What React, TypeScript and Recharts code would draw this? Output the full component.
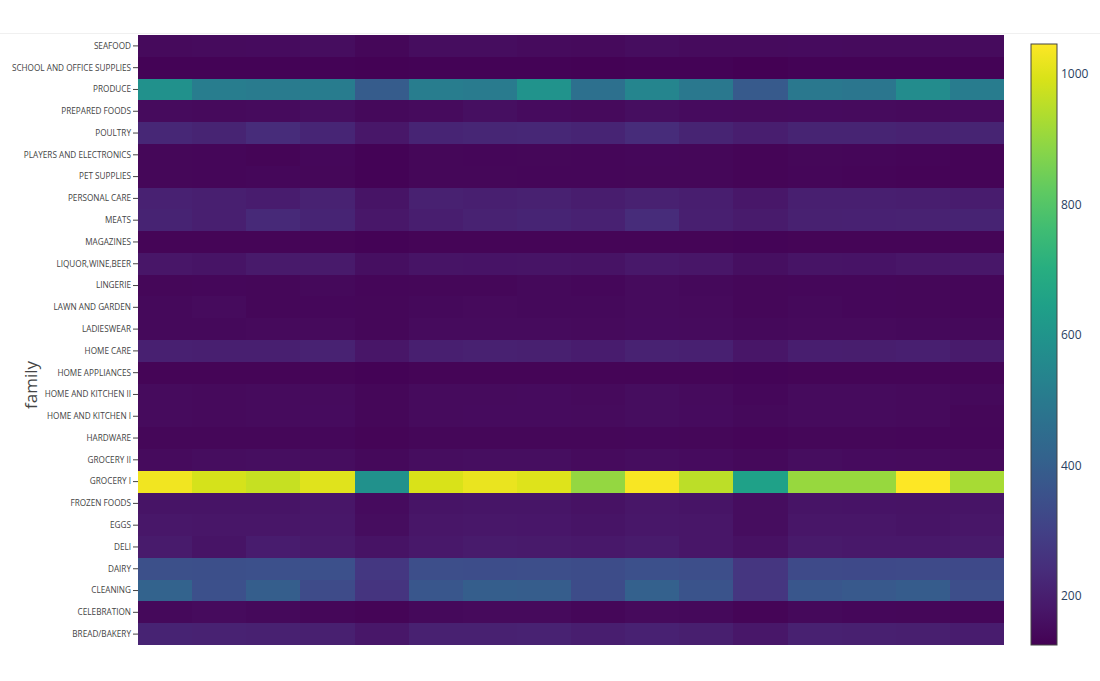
import React from 'react';
import { BarChart, Bar, XAxis, YAxis, Cell } from 'recharts';

// 上から順に（Plotly の並びに合わせて逆アルファベット順）
const families = [
  'SEAFOOD', 'SCHOOL AND OFFICE SUPPLIES', 'PRODUCE', 'PREPARED FOODS', 'POULTRY',
  'PLAYERS AND ELECTRONICS', 'PET SUPPLIES', 'PERSONAL CARE', 'MEATS', 'MAGAZINES',
  'LIQUOR,WINE,BEER', 'LINGERIE', 'LAWN AND GARDEN', 'LADIESWEAR', 'HOME CARE',
  'HOME APPLIANCES', 'HOME AND KITCHEN II', 'HOME AND KITCHEN I', 'HARDWARE', 'GROCERY II',
  'GROCERY I', 'FROZEN FOODS', 'EGGS', 'DELI', 'DAIRY', 'CLEANING', 'CELEBRATION', 'BREAD/BAKERY',
];

// 16 列分の値（絵から読み取った概算）
const seafood = [148, 150, 152, 155, 140, 155, 155, 150, 148, 155, 150, 150, 152, 150, 150, 150];
const schoolOffice = [130, 130, 131, 130, 128, 130, 130, 130, 129, 130, 130, 126, 130, 130, 130, 130];
const produce = [587, 513, 504, 508, 393, 513, 505, 596, 467, 541, 495, 384, 495, 486, 569, 508];
const preparedFoods = [150, 148, 150, 158, 145, 150, 160, 152, 148, 158, 152, 150, 152, 150, 148, 152];
const poultry = [226, 216, 240, 220, 182, 218, 222, 225, 218, 240, 216, 200, 216, 216, 212, 216];
const playersElectronics = [140, 138, 135, 142, 130, 140, 138, 140, 138, 142, 140, 135, 140, 138, 136, 134];
const petSupplies = [140, 138, 142, 140, 132, 140, 140, 138, 138, 140, 140, 135, 138, 136, 134, 134];
const personalCare = [210, 204, 196, 212, 174, 208, 204, 208, 198, 208, 200, 182, 204, 204, 200, 196];
const meats = [214, 204, 230, 218, 182, 200, 212, 218, 210, 240, 204, 192, 208, 210, 212, 214];
const magazines = [135, 135, 135, 135, 132, 135, 135, 135, 135, 135, 135, 133, 135, 135, 135, 135];
const liquor = [178, 174, 188, 188, 160, 174, 172, 174, 170, 184, 178, 160, 174, 172, 178, 182];
const lingerie = [140, 142, 140, 145, 138, 140, 140, 145, 142, 150, 145, 140, 142, 142, 140, 138];
const lawnGarden = [145, 150, 140, 142, 140, 145, 148, 145, 145, 150, 148, 140, 145, 142, 140, 138];
const ladieswear = [145, 145, 148, 148, 140, 150, 150, 150, 148, 152, 150, 145, 148, 148, 145, 145];
const homeCare = [206, 203, 203, 212, 178, 203, 209, 205, 196, 212, 206, 178, 201, 199, 203, 192];
const homeAppliances = [135, 135, 135, 135, 132, 135, 135, 135, 135, 135, 135, 133, 135, 135, 135, 135];
const homeKitchen2 = [150, 148, 150, 150, 140, 150, 150, 152, 148, 155, 150, 142, 150, 150, 148, 145];
const homeKitchen1 = [150, 148, 150, 152, 140, 150, 152, 152, 150, 155, 152, 145, 150, 150, 148, 140];
const hardware = [140, 140, 140, 142, 135, 140, 140, 140, 140, 142, 140, 136, 140, 140, 138, 138];
const grocery2 = [150, 155, 158, 155, 145, 155, 158, 158, 150, 155, 152, 145, 155, 152, 150, 148];
const grocery1 = [1030, 990, 970, 1006, 587, 995, 1020, 1003, 900, 1040, 956, 649, 905, 905, 1048, 928];
const frozenFoods = [174, 174, 174, 178, 152, 174, 176, 176, 168, 178, 174, 156, 174, 172, 170, 174];
const eggs = [182, 178, 178, 182, 156, 178, 182, 180, 174, 182, 178, 156, 178, 178, 174, 178];
const deli = [192, 174, 196, 188, 170, 184, 192, 188, 184, 192, 178, 166, 188, 184, 184, 188];
const dairy = [350, 348, 352, 352, 272, 345, 342, 344, 338, 352, 345, 270, 332, 330, 332, 330];
const cleaning = [415, 352, 398, 335, 262, 372, 398, 396, 338, 408, 362, 268, 372, 380, 390, 344];
const celebration = [145, 150, 145, 140, 135, 145, 148, 148, 140, 148, 145, 135, 145, 142, 140, 138];
const breadBakery = [214, 212, 208, 205, 182, 208, 208, 212, 200, 210, 202, 182, 208, 205, 202, 196];

const rows = [
  seafood, schoolOffice, produce, preparedFoods, poultry, playersElectronics, petSupplies,
  personalCare, meats, magazines, liquor, lingerie, lawnGarden, ladieswear, homeCare,
  homeAppliances, homeKitchen2, homeKitchen1, hardware, grocery2, grocery1, frozenFoods,
  eggs, deli, dairy, cleaning, celebration, breadBakery,
];

const colorbarTicks = [200, 400, 600, 800, 1000];

// Plotly の viridis
const viridisStops: [number, string][] = [
  [0, '#440154'], [0.0627, '#48186a'], [0.1255, '#472d7b'], [0.1882, '#424086'],
  [0.251, '#3b528b'], [0.3137, '#33638d'], [0.3765, '#2c728e'], [0.4392, '#26828e'],
  [0.502, '#21918c'], [0.5647, '#1fa088'], [0.6275, '#28ae80'], [0.6902, '#3fbc73'],
  [0.7529, '#5ec962'], [0.8157, '#84d44b'], [0.8784, '#addc30'], [0.9412, '#d8e219'],
  [1, '#fde725'],
];

const hex = (h: string) => [1, 3, 5].map(i => parseInt(h.slice(i, i + 2), 16));

function viridis(t: number) {
  const x = Math.max(0, Math.min(1, t));
  for (let i = 1; i < viridisStops.length; i++) {
    const [t1, c1] = viridisStops[i];
    const [t0, c0] = viridisStops[i - 1];
    if (x <= t1) {
      const f = (x - t0) / (t1 - t0);
      const a = hex(c0);
      const b = hex(c1);
      const c = a.map((v, k) => Math.round(v + (b[k] - v) * f));
      return `rgb(${c[0]},${c[1]},${c[2]})`;
    }
  }
  return viridisStops[viridisStops.length - 1][1];
}

const allValues = rows.flat();
const zmin = Math.min(...allValues);
const zmax = Math.max(...allValues);

const colKeys = rows[0].map((_, j) => `c${j}`);
const chartData = families.map(family => {
  const d: Record<string, string | number> = { family };
  colKeys.forEach(k => { d[k] = 1; });
  return d;
});

const FONT = '"Open Sans", "Noto Sans", sans-serif';

// カラーバーの位置
const CB_X = 1031;
const CB_W = 26;
const CB_TOP = 44;
const CB_BOTTOM = 645;
const cbY = (v: number) => CB_BOTTOM - ((v - zmin) / (zmax - zmin)) * (CB_BOTTOM - CB_TOP);

// 折り返さない目盛りラベル
const FamilyTick = (props: any) => {
  const { x, y, payload } = props;
  return (
    <text x={x} y={y} dy="0.35em" textAnchor="end" fontSize={8.2} fill="#444" fontFamily={FONT}>
      {payload.value}
    </text>
  );
};

export default function App() {
  return (
    <div style={{ position: 'absolute', left: 0, top: 0, width: 1100, height: 681, background: '#fff', fontFamily: FONT }}>
      <BarChart
        width={1100}
        height={681}
        data={chartData}
        layout="vertical"
        barCategoryGap={0}
        barGap={0}
        margin={{ top: 35, right: 96, bottom: 36, left: 0 }}
      >
        <XAxis type="number" domain={[0, colKeys.length]} hide allowDataOverflow />
        <YAxis
          type="category"
          dataKey="family"
          width={138}
          interval={0}
          axisLine={false}
          tickSize={5}
          tickMargin={2}
          tickLine={{ stroke: '#444', strokeWidth: 1 }}
          tick={<FamilyTick />}
        />
        {colKeys.map((k, j) => (
          <Bar key={k} dataKey={k} stackId="heat" isAnimationActive={false}>
            {rows.map((r, i) => {
              const c = viridis((r[j] - zmin) / (zmax - zmin));
              return <Cell key={i} fill={c} shapeRendering="crispEdges" />;
            })}
          </Bar>
        ))}
      </BarChart>
      <svg width={1100} height={681} style={{ position: 'absolute', left: 0, top: 0, pointerEvents: 'none' }}>
        <defs>
          <linearGradient id="viridisBar" x1="0" y1="1" x2="0" y2="0">
            {viridisStops.map(([o, c]) => (
              <stop key={o} offset={`${o * 100}%`} stopColor={c} />
            ))}
          </linearGradient>
        </defs>
        <line x1={0} x2={1100} y1={33.5} y2={33.5} stroke="#f0f0f0" />
        <text
          x={32}
          y={385}
          transform="rotate(-90 32 385)"
          textAnchor="middle"
          dominantBaseline="middle"
          fontSize={17}
          fill="#444"
          fontFamily={FONT}
        >
          family
        </text>
        <rect x={CB_X} y={CB_TOP} width={CB_W} height={CB_BOTTOM - CB_TOP} fill="url(#viridisBar)" stroke="#444" strokeWidth={1} />
        {colorbarTicks.map(t => (
          <text key={t} x={CB_X + CB_W + 4} y={cbY(t)} dominantBaseline="middle" fontSize={12} fill="#2a3f5f" fontFamily={FONT}>
            {t}
          </text>
        ))}
      </svg>
    </div>
  );
}
